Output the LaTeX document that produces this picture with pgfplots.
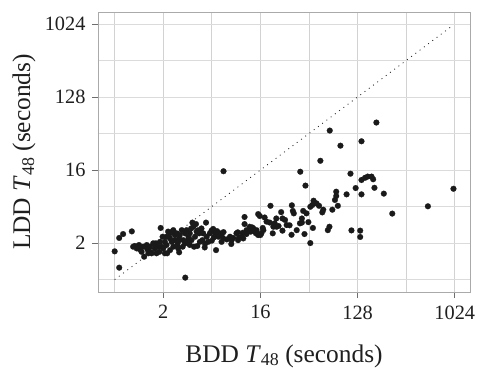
\documentclass[border=0pt]{standalone}
\usepackage{fontspec}
\setmainfont{Liberation Serif}
\usepackage{pgfplots}
\pgfplotsset{compat=1.18}
\usepackage{pgfplotstable}
\definecolor{ptc}{HTML}{1A1A1A}
\definecolor{majx}{HTML}{D2D2D2}
\definecolor{minx}{HTML}{F2F2F2}
\definecolor{bord}{HTML}{AAAAAA}
\definecolor{tickc}{HTML}{6E6E6E}
% values are log2 of seconds
\pgfplotstableread{
x y
-0.50 0.66
-0.36 -0.01
-0.36 1.21
-0.24 1.37
0.03 1.48
1.68 -0.42
2.86 3.95
0.92 1.62
6.14 5.62
6.47 5.00
7.12 5.18
7.58 5.95
5.85 4.38
5.23 3.93
5.39 3.36
6.78 3.85
6.94 3.26
7.12 3.00
7.12 3.59
7.23 3.68
7.31 3.73
7.43 3.73
7.48 3.62
7.52 3.27
7.81 3.03
8.07 2.21
9.17 2.51
9.96 3.23
6.66 3.00
6.34 3.11
6.34 2.93
6.30 2.77
6.39 2.53
6.22 2.37
6.13 1.67
6.08 1.53
6.81 1.52
7.08 1.51
7.08 1.25
5.91 2.26
5.94 2.37
5.81 2.53
5.64 2.74
5.54 2.49
5.60 2.56
5.32 2.32
5.48 1.86
5.28 2.01
5.28 1.84
5.62 1.62
5.36 1.37
5.54 1.00
4.97 2.55
5.00 2.32
5.03 2.22
4.90 1.73
4.96 1.34
4.64 2.27
4.68 2.01
4.49 2.01
4.76 1.95
4.68 1.51
4.56 1.70
4.31 2.53
4.29 1.84
4.40 1.67
4.38 1.40
4.13 2.05
3.93 2.19
3.98 2.11
4.07 1.62
4.00 1.33
3.51 2.07
3.51 1.78
3.75 1.64
3.80 1.53
3.70 1.47
3.57 1.37
3.45 1.42
3.30 1.44
3.16 1.21
3.10 0.96
3.34 1.23
3.86 1.40
2.63 0.71
2.32 1.84
2.86 1.45
2.80 1.05
2.54 1.58
2.66 1.49
2.56 1.23
2.50 1.10
2.28 0.82
2.21 1.12
2.05 0.88
1.90 1.84
1.86 1.60
2.03 1.47
2.11 1.40
1.95 0.85
1.78 1.26
1.75 1.01
1.49 0.62
1.60 0.85
1.49 1.19
1.41 1.40
1.21 1.40
1.10 1.26
0.98 1.26
1.05 1.05
0.95 0.85
1.12 0.58
0.88 0.64
0.74 0.78
0.59 0.85
0.60 0.64
0.41 0.44
0.28 0.74
0.25 0.92
0.07 0.85
0.38 0.85
0.51 0.74
0.77 0.99
1.24 1.44
1.36 1.12
1.62 1.12
1.31 0.85
1.43 0.92
1.67 1.40
1.98 1.26
2.34 1.26
2.70 1.26
2.85 1.19
3.11 1.12
3.42 1.26
3.67 1.67
3.78 1.60
3.93 1.33
3.26 1.40
4.03 1.40
0.18 0.78
0.33 0.64
0.49 0.92
0.64 0.58
0.79 0.58
0.85 0.85
1.00 0.78
1.05 0.58
1.21 0.71
1.26 1.05
1.36 1.33
1.46 1.05
1.51 1.33
1.57 1.53
1.72 1.53
1.82 1.40
1.87 1.12
1.82 0.92
2.13 1.05
2.23 1.40
2.39 1.05
2.44 1.40
2.60 1.40
2.75 1.40
2.96 1.15
3.06 1.26
3.31 1.12
3.47 1.19
3.57 1.53
3.88 1.53
4.09 1.53
4.19 1.88
4.44 1.81
4.50 1.67
4.81 1.74
5.12 1.53
5.22 1.81
5.42 2.22
5.73 2.63
1.21 1.19
1.10 0.92
0.90 1.05
0.69 0.99
0.54 0.58
0.12 0.88
1.31 1.53
1.15 1.47
1.93 1.67
2.01 1.78
2.08 1.53
2.18 1.60
1.77 1.12
1.67 0.99
1.46 0.78
2.29 0.97
2.49 1.51
2.80 1.33
}\ddata
\pgfplotstableread{
x y
-0.50 -0.50
9.96 9.96
}\diag

\begin{document}
\begin{tikzpicture}
\useasboundingbox (-98bp,-77bp) rectangle (379bp,292bp);
\begin{axis}[
  at={(0,0)}, anchor=south west,
  scale only axis, width=372bp, height=280bp,
  xmin=-1.015, xmax=10.47, ymin=-1.01, ymax=10.49,
  xtick={1,4,7,10}, xticklabels={2,16,128,1024},
  ytick={1,4,7,10}, yticklabels={2,16,128,1024},
  minor xtick={-0.5,2.5,5.5,8.5},
  minor ytick={-0.5,2.5,5.5,8.5},
  grid=both,
  x grid style={draw=majx, line width=0.8bp},
  y grid style={draw=majx!80, line width=0.8bp},
  minor grid style={draw=minx, line width=0.6bp},
  axis line style={draw=bord, line width=0.7bp},
  tick align=outside,
  major tick length=6bp, minor tick length=0pt,
  tick style={draw=tickc, line width=0.8bp},
  xtick pos=bottom, ytick pos=left,
  tick label style={font=\fontsize{20.4}{22}\selectfont, text=black!88},
  xticklabel style={yshift=-4bp},
  yticklabel style={xshift=-3bp},
  xlabel={BDD \textit{T}{\fontsize{18}{18}\selectfont\raisebox{-0.22em}{48}} (seconds)},
  ylabel={LDD \textit{T}{\fontsize{18}{18}\selectfont\raisebox{-0.22em}{48}} (seconds)},
  every axis x label/.style={at={(axis description cs:0.5,-0.25)}, anchor=base,
    font=\fontsize{25.5}{28}\selectfont, text=black!88},
  every axis y label/.style={at={(axis description cs:-0.199,0.5)}, rotate=90, anchor=center,
    font=\fontsize{25.5}{28}\selectfont, text=black!88},
  clip=false,
]
\addplot[draw=black!90, line width=0.8bp, dash pattern=on 0.9bp off 4.4bp] table {\diag};
\addplot[only marks, mark=*, mark size=2.9bp, mark options={solid, fill=ptc, draw=ptc, line width=0.2bp}] table {\ddata};
\end{axis}
\end{tikzpicture}
\end{document}
